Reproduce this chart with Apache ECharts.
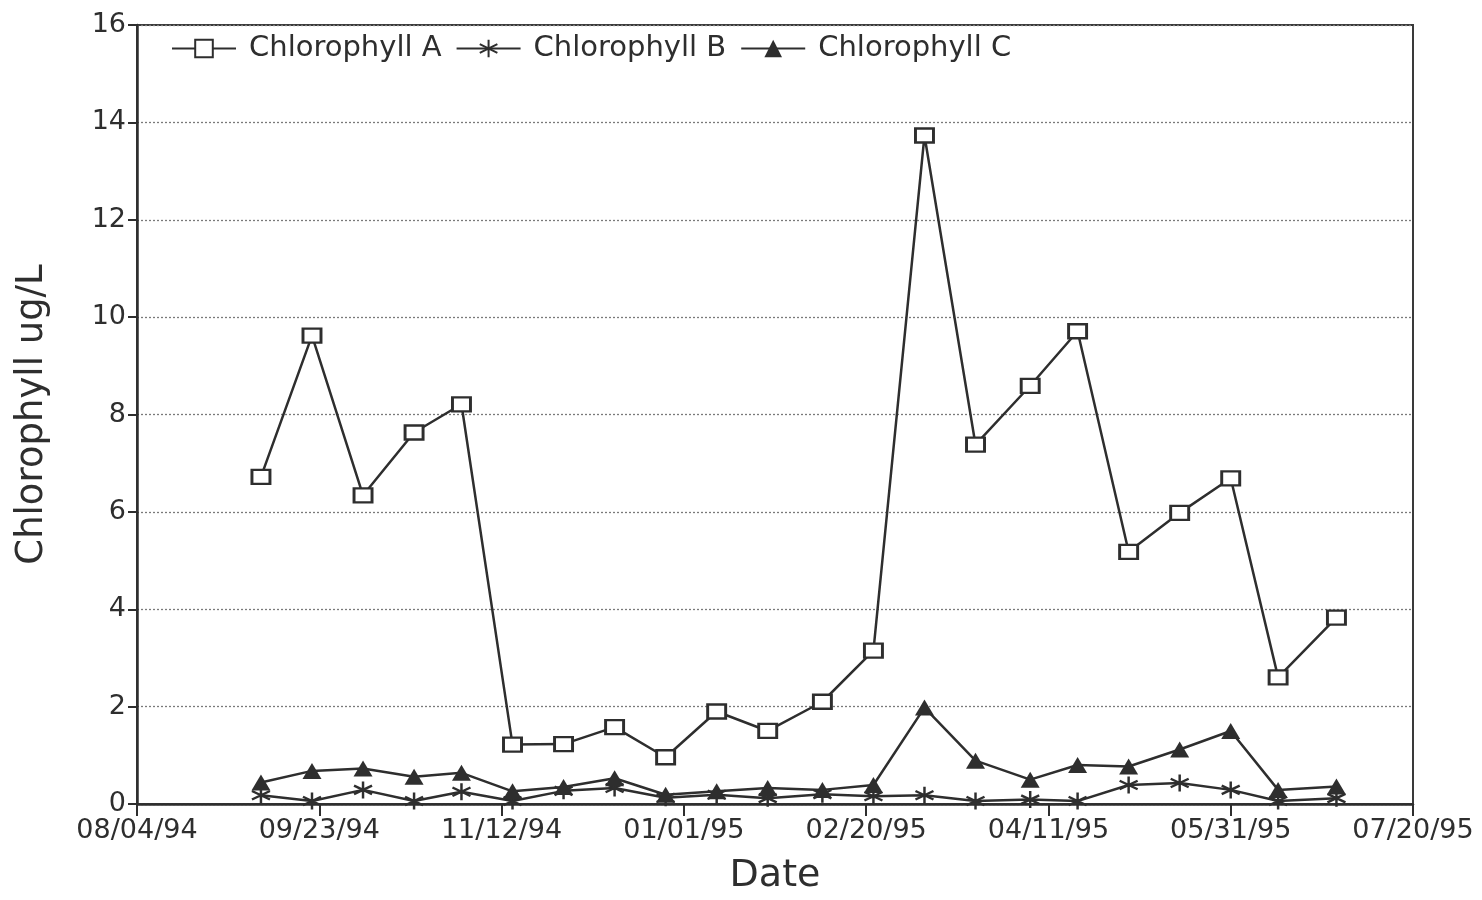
<!DOCTYPE html>
<html>
<head>
<meta charset="utf-8">
<script src="https://cdn.jsdelivr.net/npm/echarts@6/dist/echarts.min.js"></script>
<style>
  html, body { margin: 0; padding: 0; background: #ffffff; }
  #chart { width: 1482px; height: 900px; }
</style>
</head>
<body>
<div id="chart"></div>
<script>
// Sampling dates (roughly biweekly, Sep 1994 - Jun 1995)
const sampleDates = [
  '1994-09-07', '1994-09-21', '1994-10-05', '1994-10-19', '1994-11-01',
  '1994-11-15', '1994-11-29', '1994-12-13', '1994-12-27', '1995-01-10',
  '1995-01-24', '1995-02-08', '1995-02-22', '1995-03-08', '1995-03-22',
  '1995-04-06', '1995-04-19', '1995-05-03', '1995-05-17', '1995-05-31',
  '1995-06-13', '1995-06-29'
];

// Chlorophyll concentrations, ug/L
const chlorophyllA = [6.72, 9.62, 6.34, 7.63, 8.21, 1.22, 1.23, 1.58, 0.96, 1.90,
                      1.50, 2.10, 3.15, 13.73, 7.38, 8.59, 9.71, 5.18, 5.98, 6.69,
                      2.60, 3.83];
const chlorophyllB = [0.18, 0.06, 0.29, 0.06, 0.25, 0.06, 0.27, 0.33, 0.13, 0.19,
                      0.12, 0.20, 0.16, 0.18, 0.06, 0.09, 0.06, 0.39, 0.43, 0.29,
                      0.06, 0.12];
const chlorophyllC = [0.44, 0.68, 0.73, 0.56, 0.64, 0.26, 0.35, 0.53, 0.19, 0.26,
                      0.33, 0.29, 0.39, 1.98, 0.89, 0.50, 0.80, 0.77, 1.12, 1.50,
                      0.29, 0.36];

// Date axis: first tick and spacing (days)
const axisStartDate = '1994-08-04';
const axisSpanDays = 350;
const tickStepDays = 50;

const DAY = 86400000;
const baseMs = Date.parse(axisStartDate + 'T00:00:00Z');
const toDay = s => Math.round((Date.parse(s + 'T00:00:00Z') - baseMs) / DAY);
const pad2 = n => (n < 10 ? '0' : '') + n;
const fmtDate = v => {
  const d = new Date(baseMs + v * DAY);
  return pad2(d.getUTCMonth() + 1) + '/' + pad2(d.getUTCDate()) + '/' +
         pad2(d.getUTCFullYear() % 100);
};
const pairs = vals => sampleDates.map((s, i) => [toDay(s), vals[i]]);

const INK = '#2e2e2e';
const FONT = 'DejaVu Sans';

// six-armed asterisk, stroked
const asterisk = 'path://M0,-10L0,10M-8.66,-5L8.66,5M-8.66,5L8.66,-5';

const chart = echarts.init(document.getElementById('chart'));
chart.setOption({
  backgroundColor: '#ffffff',
  animation: false,
  textStyle: { fontFamily: FONT, color: INK },
  grid: {
    left: 137, right: 69, top: 25, bottom: 94,
    show: true, borderColor: '#3a3a3a', borderWidth: 2, backgroundColor: 'transparent'
  },
  legend: {
    left: 166, top: 29,
    itemWidth: 64, itemHeight: 22, itemGap: 14,
    textStyle: { fontFamily: FONT, fontSize: 29, color: INK, padding: [0, 0, 0, 8] },
    data: ['Chlorophyll A', 'Chlorophyll B', 'Chlorophyll C']
  },
  xAxis: {
    type: 'value',
    min: 0, max: axisSpanDays, interval: tickStepDays,
    name: 'Date', nameLocation: 'middle', nameGap: 53,
    nameTextStyle: { fontFamily: FONT, fontSize: 38, color: INK },
    axisLine: { lineStyle: { color: INK, width: 2.5 } },
    axisTick: { show: true, inside: false, length: 12, lineStyle: { color: INK, width: 2 } },
    axisLabel: { formatter: fmtDate, fontFamily: FONT, fontSize: 27, color: INK, margin: 13 },
    splitLine: { show: false }
  },
  yAxis: {
    type: 'value',
    min: 0, max: 16, interval: 2,
    name: 'Chlorophyll ug/L', nameLocation: 'middle', nameGap: 86,
    nameTextStyle: { fontFamily: FONT, fontSize: 37, color: INK },
    axisLine: { show: true, lineStyle: { color: INK, width: 2.5 } },
    axisTick: { show: true, inside: false, length: 9, lineStyle: { color: INK, width: 2 } },
    axisLabel: { fontFamily: FONT, fontSize: 27, color: INK, margin: 11 },
    splitLine: { show: true, lineStyle: { color: '#7a7a7a', width: 1.3, type: [2, 2] } }
  },
  series: [
    {
      name: 'Chlorophyll A', type: 'line', data: pairs(chlorophyllA),
      symbol: 'rect', symbolSize: [18, 14],
      lineStyle: { color: INK, width: 2.5 },
      itemStyle: { color: '#ffffff', borderColor: INK, borderWidth: 2.6 },
      z: 3
    },
    {
      name: 'Chlorophyll B', type: 'line', data: pairs(chlorophyllB),
      symbol: asterisk, symbolSize: [18, 17],
      lineStyle: { color: INK, width: 2.5 },
      itemStyle: { color: INK, borderColor: INK, borderWidth: 2.4 },
      z: 2
    },
    {
      name: 'Chlorophyll C', type: 'line', data: pairs(chlorophyllC),
      symbol: 'triangle', symbolSize: [19, 16],
      lineStyle: { color: INK, width: 2.5 },
      itemStyle: { color: INK, borderColor: INK, borderWidth: 0 },
      z: 2
    }
  ]
});
</script>
</body>
</html>
